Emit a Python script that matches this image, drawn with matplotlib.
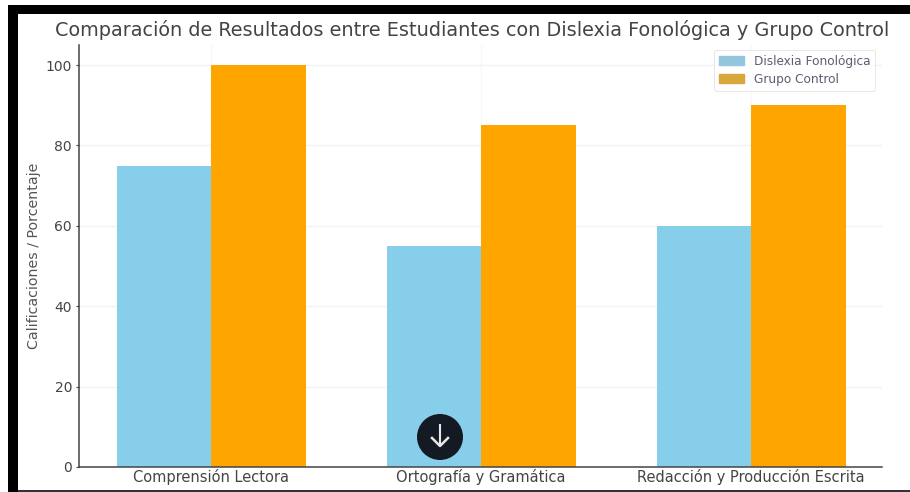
import matplotlib
matplotlib.use("Agg")
import matplotlib.pyplot as plt
from matplotlib.patches import Rectangle, Circle
import numpy as np

categories = ["Comprensión Lectora", "Ortografía y Gramática", "Redacción y Producción Escrita"]
dislexia = [75, 55, 60]
control = [100, 85, 90]
series_names = ["Dislexia Fonológica", "Grupo Control"]
yticks = [0, 20, 40, 60, 80, 100]
title = "Comparación de Resultados entre Estudiantes con Dislexia Fonológica y Grupo Control"
ylabel = "Calificaciones / Porcentaje"

W, H = 910, 492
fig = plt.figure(figsize=(W / 100, H / 100), dpi=100, facecolor="white")
ax = fig.add_axes([79 / W, 1 - 467 / H, (882 - 79) / W, (467 - 45) / H])

x = np.arange(len(categories))
width = 0.35
ax.bar(x - width / 2, dislexia, width, color="skyblue", label=series_names[0], zorder=2)
ax.bar(x + width / 2, control, width, color="orange", label=series_names[1], zorder=2)

ax.set_xlim(-0.489, 2.485)
ax.set_ylim(0, 105)
ax.set_xticks(x)
ax.set_xticklabels(categories, fontsize=10.5, color="#444444")
ax.set_yticks(yticks)
ax.tick_params(axis="y", labelsize=10, colors="#444444", length=2, pad=3)
ax.tick_params(axis="x", length=0, pad=1.5)
ax.set_ylabel(ylabel, fontsize=10.2, color="#555555")
ax.yaxis.set_label_coords((41 - 79) / (882 - 79), 0.5)
ax.grid(axis="y", color="#f3f3f3", lw=1, zorder=0)
ax.grid(axis="x", color="#f6f8fa", lw=1, zorder=0)
ax.set_axisbelow(True)
for s in ("top", "right"):
    ax.spines[s].set_visible(False)
for s in ("left", "bottom"):
    ax.spines[s].set_color("#444444")
    ax.spines[s].set_linewidth(1.1)

fig.text(472 / W, 1 - 30 / H, title, fontsize=13.85, color="#444444", ha="center", va="center")

leg = ax.legend(loc="upper right", bbox_to_anchor=(875 / W, 1 - 50 / H), bbox_transform=fig.transFigure,
                fontsize=8.7, frameon=True, borderaxespad=0, labelcolor="#5a5f70",
                handlelength=2.1, handletextpad=0.8, borderpad=0.4, labelspacing=0.4)
leg.get_frame().set_edgecolor("#e2e2e2")
leg.get_frame().set_linewidth(0.7)
leg.get_frame().set_alpha(0.85)
for handle, col in zip(leg.legend_handles, ["#93c6dc", "#d8a83c"]):
    handle.set_color(col)

# black screenshot frame: left and top edges, thin line along the bottom
for (x0, y0, w, h, col) in [(18, 490, 892, 2, "#333333"), (8, 5, 902, 9, "black"), (8, 5, 10, 487, "black")]:
    fig.add_artist(Rectangle((x0 / W, 1 - (y0 + h) / H), w / W, h / H, transform=fig.transFigure,
                             color=col, lw=0, zorder=10))

# scroll-down button overlay
overlay = fig.add_axes([0, 0, 1, 1], facecolor="none")
overlay.set_xlim(0, W)
overlay.set_ylim(H, 0)
overlay.axis("off")
overlay.add_patch(Circle((440, 437), 23, color="#141a24", lw=0))
overlay.plot([440, 440], [425, 445], color="#e8e8e8", lw=1.5)
overlay.plot([432, 440, 448], [438, 446, 438], color="#e8e8e8", lw=1.8)

fig.savefig("out.png", dpi=100)
